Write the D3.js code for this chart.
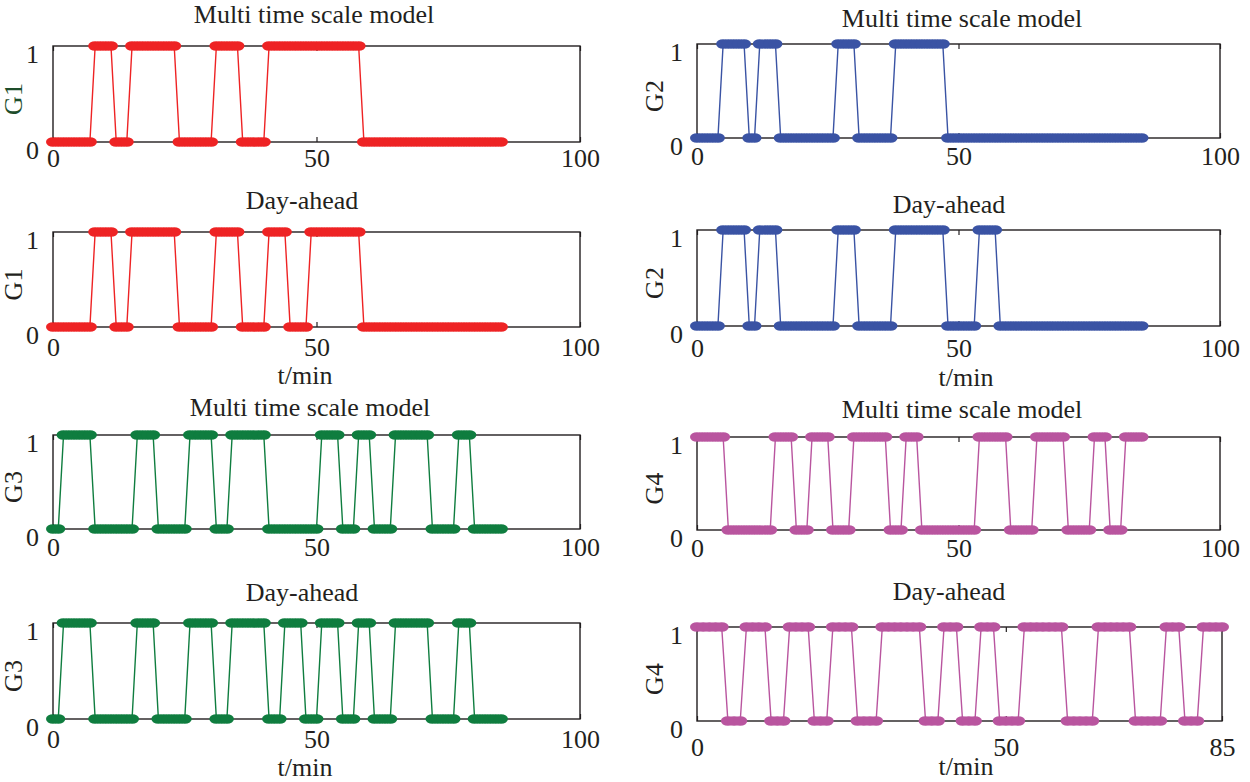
<!DOCTYPE html>
<html>
<head>
<meta charset="utf-8">
<script src="https://cdn.jsdelivr.net/npm/d3@7/dist/d3.min.js"></script>
<style>
  body { margin: 0; background: #fff; }
  text { font-family: "Liberation Serif", "Times New Roman", serif; fill: #231f20; }
</style>
</head>
<body>
<div id="chart"></div>
<script>
// tick labels and titles
const xTicksFull = [0, 50, 100];
const xTicksShort = [0, 50, 85];
const yTicks = [0, 1];
const titleMts = "Multi time scale model";
const titleDa = "Day-ahead";
const xLabel = "t/min";

// on/off state of each unit, one character per minute (t = 0 ... 85)
const g1Mts = "00000000" + "1111" + "000" + "111111111" + "0000000" + "11111" + "00000" +
    "111111111111111111" + "000000000000000000000000000";
const g1Da = "00000000" + "1111" + "000" + "111111111" + "0000000" + "11111" + "00000" +
    "1111" + "0000" + "1111111111" + "000000000000000000000000000";
const g2Mts = "00000" + "11111" + "00" + "1111" + "00000000000" + "1111" + "0000000" +
    "1111111111" + "00000000000000000000000000000000000000";
const g2Da = "00000" + "11111" + "00" + "1111" + "00000000000" + "1111" + "0000000" +
    "1111111111" + "000000" + "1111" + "0000000000000000000000000000";
const g3Mts = "00" + "111111" + "00000000" + "1111" + "000000" + "11111" + "000" + "1111111" +
    "0000000000" + "1111" + "000" + "111" + "0000" + "1111111" + "00000" + "111" + "000000";
const g3Da = "00" + "111111" + "00000000" + "1111" + "000000" + "11111" + "000" + "1111111" +
    "000" + "1111" + "000" + "1111" + "000" + "111" + "0000" + "1111111" + "00000" + "111" + "000000";
const g4Mts = "111111" + "000000000" + "1111" + "000" + "1111" + "0000" + "1111111" + "000" + "111" +
    "00000000000" + "111111" + "00000" + "111111" + "00000" + "111" + "000" + "1111";
const g4Da = "11111" + "000" + "1111" + "000" + "1111" + "000" + "1111" + "0000" + "1111111" + "000" +
    "111" + "000" + "111" + "0000" + "1111111" + "00000" + "111111" + "00000" + "111" + "000" + "1111";

// layout of the eight panels
const panels = [
    { states: g1Mts, name: "G1", nameColor: "#1e4d2b", title: titleMts, color: "#ee2324", xTicks: xTicksFull,
      x0: 53, x1: 580, y0: 46, y1: 142, titleX: 314, titleY: 23, tickY: 167, labelX: 22 },
    { states: g1Da, name: "G1", title: titleDa, color: "#ee2324", xTicks: xTicksFull,
      x0: 53, x1: 580, y0: 232, y1: 327, titleX: 302, titleY: 209, tickY: 356, labelX: 22, xLabelX: 305, xLabelY: 384 },
    { states: g3Mts, name: "G3", title: titleMts, color: "#0f7d3f", xTicks: xTicksFull,
      x0: 53, x1: 580, y0: 435, y1: 529, titleX: 310, titleY: 416, tickY: 556, labelX: 22 },
    { states: g3Da, name: "G3", title: titleDa, color: "#0f7d3f", xTicks: xTicksFull,
      x0: 53, x1: 580, y0: 623, y1: 719, titleX: 302, titleY: 601, tickY: 748, labelX: 22, xLabelX: 305, xLabelY: 776 },
    { states: g2Mts, name: "G2", title: titleMts, color: "#3a53a4", xTicks: xTicksFull,
      x0: 697, x1: 1220, y0: 44, y1: 138, titleX: 962, titleY: 27, tickY: 165, labelX: 663 },
    { states: g2Da, name: "G2", title: titleDa, color: "#3a53a4", xTicks: xTicksFull,
      x0: 697, x1: 1220, y0: 230, y1: 326, titleX: 949, titleY: 213, tickY: 357, labelX: 663, xLabelX: 966, xLabelY: 386 },
    { states: g4Mts, name: "G4", title: titleMts, color: "#b9559f", xTicks: xTicksFull,
      x0: 697, x1: 1220, y0: 437, y1: 530, titleX: 962, titleY: 418, tickY: 557, labelX: 663 },
    { states: g4Da, name: "G4", title: titleDa, color: "#b9559f", xTicks: xTicksShort,
      x0: 697, x1: 1222, y0: 627, y1: 721, titleX: 949, titleY: 600, tickY: 756, labelX: 663, xLabelX: 966, xLabelY: 775 }
];

const svg = d3.select("#chart")
    .append("svg")
    .attr("width", 1250)
    .attr("height", 782);

const fontSize = 26;

panels.forEach(p => {
    const xMax = p.xTicks[p.xTicks.length - 1];
    const x = d3.scaleLinear().domain([0, xMax]).range([p.x0, p.x1]);
    const y = d3.scaleLinear().domain([0, 1]).range([p.y1, p.y0]);
    const points = p.states.split("").map((s, i) => ({ t: i, v: +s }));

    const g = svg.append("g");

    // title
    g.append("text")
        .attr("x", p.titleX)
        .attr("y", p.titleY)
        .attr("text-anchor", "middle")
        .attr("font-size", fontSize)
        .text(p.title);

    // bottom axis, ticks pointing in
    const bottom = g.append("g")
        .attr("transform", `translate(0,${p.y1})`)
        .call(d3.axisBottom(x).tickValues(p.xTicks).tickSize(-5).tickPadding(p.tickY - p.y1 - 18.5));
    bottom.select(".domain").remove();
    bottom.selectAll("text").attr("font-size", fontSize).attr("font-family", null);

    // top axis, ticks only
    const top = g.append("g")
        .attr("transform", `translate(0,${p.y0})`)
        .call(d3.axisTop(x).tickValues(p.xTicks).tickSize(-5).tickFormat(""));
    top.select(".domain").remove();

    // left axis
    const left = g.append("g")
        .attr("transform", `translate(${p.x0},0)`)
        .call(d3.axisLeft(y).tickValues(yTicks).tickSize(0).tickPadding(14).tickFormat(d3.format("d")));
    left.select(".domain").remove();
    left.selectAll("text").attr("font-size", fontSize).attr("font-family", null).attr("dy", "0.64em");

    g.selectAll(".tick line").attr("stroke", "#231f20").attr("stroke-width", 1.2);

    // frame
    g.append("rect")
        .attr("x", p.x0)
        .attr("y", p.y0)
        .attr("width", p.x1 - p.x0)
        .attr("height", p.y1 - p.y0)
        .attr("fill", "none")
        .attr("stroke", "#231f20")
        .attr("stroke-width", 1.4);

    // y label
    g.append("text")
        .attr("transform", `translate(${p.labelX},${(p.y0 + p.y1) / 2 + 5}) rotate(-90)`)
        .attr("text-anchor", "middle")
        .attr("font-size", fontSize)
        .style("fill", p.nameColor || "#231f20")
        .text(p.name);

    // x label
    if (p.xLabelX) {
        g.append("text")
            .attr("x", p.xLabelX)
            .attr("y", p.xLabelY)
            .attr("text-anchor", "middle")
            .attr("font-size", fontSize)
            .text(xLabel);
    }

    // state line
    g.append("path")
        .datum(points)
        .attr("d", d3.line().x(d => x(d.t)).y(d => y(d.v)))
        .attr("fill", "none")
        .attr("stroke", p.color)
        .attr("stroke-width", 1.4);

    // markers
    g.selectAll("ellipse")
        .data(points)
        .join("ellipse")
        .attr("cx", d => x(d.t))
        .attr("cy", d => y(d.v))
        .attr("rx", 7)
        .attr("ry", 4.8)
        .attr("fill", p.color);
});
</script>
</body>
</html>
